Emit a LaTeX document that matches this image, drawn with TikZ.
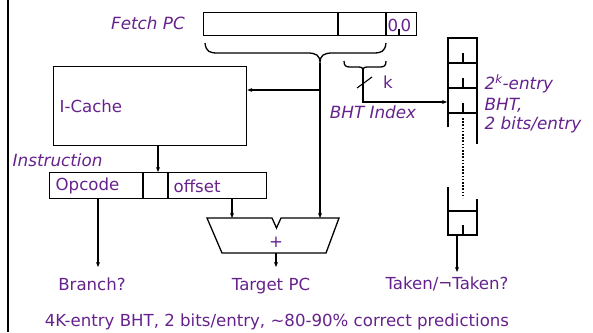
\documentclass[tikz,border=0pt]{standalone}
\usepackage{fontspec}
\setmainfont{DejaVu Sans}
\usetikzlibrary{arrows.meta}
\definecolor{lblc}{RGB}{102,34,140}
\begin{document}
\begin{tikzpicture}[x=1pt,y=-1pt,line width=1.3pt,
  lbl/.style={text=lblc,font=\fontsize{16.6}{20}\selectfont,inner sep=0pt},
  ilbl/.style={text=lblc,font=\fontsize{16.8}{20}\selectfont\itshape,inner sep=0pt},
  box/.style={draw,inner sep=0pt,anchor=north west},
  arr/.style={-{Stealth[length=5pt,width=4pt]},line width=1.1pt}]
\useasboundingbox (0,0) rectangle (593,332);
% left border
\draw[line width=2pt] (8,0) -- (8,332);
% Fetch PC
\node[ilbl] (fpclbl) at (148,23) {Fetch PC};
\node[box,minimum width=213pt,minimum height=23pt] (fetch) at (203,12) {};
\draw (338,12) -- (338,35);
\draw[line width=2.4pt] (386,12) -- (386,35);
\draw[line width=1.6pt] (399,29) -- (399,35);
\node[lbl] (z1) at (393,25) {0};
\node[lbl] (z2) at (406,25) {0};
% braces
\coordinate (btip) at (320,63);
\draw (205,43) .. controls (206,52) and (210,53) .. (218,53) -- (307,53)
      .. controls (316,53) and (320,55) .. (btip)
      .. controls (320,55) and (324,53) .. (333,53) -- (373,53)
      .. controls (381,53) and (385,52) .. (386,43);
\coordinate (stip) at (363,70);
\draw (344,61) .. controls (344,66) and (346,67) .. (350,67) -- (358,67)
      .. controls (362,67) and (363,68) .. (stip)
      .. controls (363,68) and (364,67) .. (368,67) -- (380,67)
      .. controls (384,67) and (386,66) .. (386,61);
% I-Cache
\node[box,minimum width=193pt,minimum height=79pt] (icache) at (53,66) {};
\node[lbl,anchor=west] (iclbl) at (59,106) {I-Cache};
% Instruction
\node[ilbl,anchor=west] (inslbl) at (12,160) {Instruction};
\node[box,minimum width=217pt,minimum height=26pt] (instr) at (49,172) {};
\draw (143,172) -- (143,198);
\draw (168,172) -- (168,198);
\node[lbl,anchor=west] (opc) at (55,186) {Opcode};
\node[lbl,anchor=west] (offs) at (173,186) {offset};
% adder
\draw (207,218) -- (272,218) -- (276.5,228) -- (281,218) -- (339,218) -- (326,253) -- (222,253) -- cycle;
\node[lbl] (plus) at (276,242) {+};
\coordinate (addA) at (232,218);
\coordinate (addB) at (320,218);
\coordinate (addO) at (276,253);
% connectors
\draw[arr] (btip) -- (addB);
\draw[arr] (320,90) -- (icache.east |- 0,90);
\draw[arr] (icache.south -| 158,0) -- (instr.north -| 158,0);
\draw[arr] (instr.south -| 98,0) -- (98,267);
\draw[arr] (instr.south -| 232,0) -- (addA);
\draw[arr] (addO) -- (276,267);
% labels bottom
\node[lbl] (br) at (92,284) {Branch?};
\node[lbl] (tpc) at (271,286) {Target PC};
\node[lbl] (tk) at (447,284) {Taken/¬Taken?};
\node[lbl] (note) at (277,322) {4K-entry BHT, 2 bits/entry, \textasciitilde80-90\% correct predictions};
% BHT index
\coordinate (bhtin) at (447,102);
\draw[arr] (stip) -- (363,102) -- (bhtin);
\draw[line width=1.1pt] (357,88) -- (372,77);
\node[lbl] (klbl) at (388,82) {k};
\node[ilbl] (bhtidx) at (373,112) {BHT Index};
% BHT table
\draw (448,127) -- (448,38) -- (477,38) -- (477,144);
\foreach \y in {63,88,113} {
  \draw (448,\y) -- (477,\y);
  \draw (463,\y-10) -- (463,\y);
}
\draw[line width=2pt,dash pattern=on 1.6pt off 1.6pt] (463,118) -- (463,198);
\draw (448,187) -- (448,235) -- (477,235) -- (477,199);
\draw (448,211) -- (477,211);
\draw (463,225) -- (463,235);
\draw[arr] (457,235) -- (457,272);
\node[ilbl,anchor=west] (bhtlbl) at (484,84) {2\textsuperscript{k}-entry};
\node[ilbl,anchor=west] (bhtlbl2) at (484,105) {BHT,};
\node[ilbl,anchor=west] (bhtlbl3) at (484,125) {2 bits/entry};
\end{tikzpicture}
\end{document}
